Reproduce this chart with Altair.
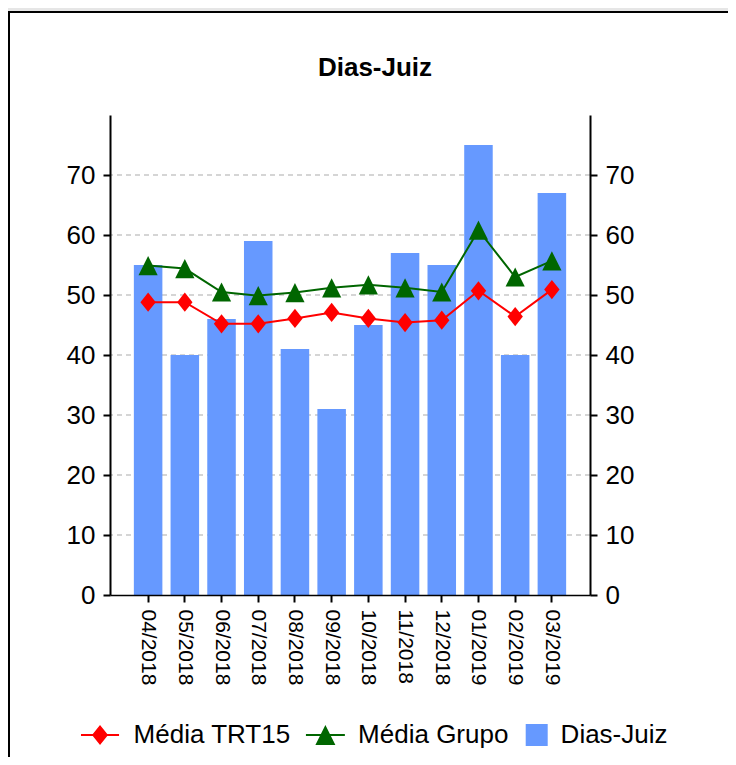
import altair as alt
import pandas as pd

# ---- data ----
months = ["04/2018", "05/2018", "06/2018", "07/2018", "08/2018", "09/2018",
          "10/2018", "11/2018", "12/2018", "01/2019", "02/2019", "03/2019"]
dias_juiz = [55, 40, 46, 59, 41, 31, 45, 57, 55, 75, 40, 67]
media_trt15 = [48.8, 48.8, 45.2, 45.2, 46.1, 47.1, 46.1, 45.4, 45.8, 50.7, 46.4, 50.9]
media_grupo = [54.9, 54.4, 50.5, 49.9, 50.4, 51.2, 51.7, 51.2, 50.5, 60.8, 53.0, 55.7]
y_ticks = [0, 10, 20, 30, 40, 50, 60, 70]
grid_values = [10, 20, 30, 40, 50, 60, 70]
series_names = ["Média TRT15", "Média Grupo", "Dias-Juiz"]
series_colors = ["#ff0000", "#006600", "#6699ff"]

FONT = "Liberation Sans"

df = pd.DataFrame({"month": months, "dias": dias_juiz,
                   "trt": media_trt15, "grupo": media_grupo})

x_scale = alt.Scale(domain=months, paddingInner=0.223, paddingOuter=0.65)
y_scale = alt.Scale(domain=[0, 80], nice=False, zero=True)

x_axis = alt.Axis(labelAngle=90, labelFontSize=21, labelFont=FONT, labelColor="black",
                  tickSize=7, tickWidth=2, tickColor="black",
                  domainColor="black", domainWidth=1.5, labelPadding=7,
                  title=None, grid=False, zindex=1)

def y_axis(orient):
    return alt.Axis(orient=orient, values=y_ticks, labelFontSize=26, labelFont=FONT,
                    labelColor="black", labelPadding=8, tickSize=7, tickWidth=2,
                    tickColor="black", domainColor="black", domainWidth=2,
                    title=None, grid=False, zindex=1)

X = alt.X("month:N", scale=x_scale, sort=None, axis=x_axis)

# white panel with black border
panel = alt.Chart(pd.DataFrame({"k": [0]})).mark_rect(
    fill="white", stroke="black", strokeWidth=2
).encode(x=alt.value(-101), x2=alt.value(700), y=alt.value(-103), y2=alt.value(700))

grid = alt.Chart(pd.DataFrame({"v": grid_values})).mark_rule(
    color="#c8c8c8", strokeWidth=1.5, strokeDash=[5, 4]
).encode(y=alt.Y("v:Q", scale=y_scale, axis=None))

bars = alt.Chart(df).mark_bar(color="#6699ff").encode(
    x=X, y=alt.Y("dias:Q", scale=y_scale, axis=y_axis("left")))

red_line = alt.Chart(df).mark_line(color="#ff0000", strokeWidth=2).encode(
    x=X, y=alt.Y("trt:Q", scale=y_scale, axis=y_axis("right")))
red_pts = alt.Chart(df).mark_point(
    shape="M-0.8,0L0,-1L0.8,0L0,1Z", size=370, filled=True, color="#ff0000", opacity=1
).encode(x=X, y=alt.Y("trt:Q", scale=y_scale, axis=None))

green_line = alt.Chart(df).mark_line(color="#006600", strokeWidth=2).encode(
    x=X, y=alt.Y("grupo:Q", scale=y_scale, axis=None))
green_pts = alt.Chart(df).mark_point(
    shape="M0,-1L1,1L-1,1Z", size=369, filled=True, color="#006600", opacity=1
).encode(x=X, y=alt.Y("grupo:Q", scale=y_scale, axis=None))

# legend symbols (line + marker), drawn as filled paths
legend_paths = [
    "M-2.51,-0.09H0.95V0.09H-2.51Z"
    "M-1.51,0L-0.78,-0.91L-0.05,0L-0.78,0.91Z",
    "M-2.47,-0.09H1.07V0.09H-2.47Z"
    "M-0.7,-0.91L0.21,0.91L-1.61,0.91Z",
    "M-0.9,-1H1.1V1H-0.9Z",
]
leg = alt.Legend(title=None, orient="none", legendX=-14.4, legendY=607,
                 direction="horizontal", padding=0, symbolSize=484,
                 symbolStrokeWidth=0, symbolStrokeColor="transparent",
                 symbolOpacity=1,
                 labelFontSize=26, labelFont=FONT,
                 labelColor="black", labelOffset=12, columnPadding=13.5,
                 labelLimit=400)
# legend host: its own points sit outside the visible canvas
legend_layer = alt.Chart(pd.DataFrame({"series": series_names})).mark_point(
    filled=True
).encode(
    x=alt.value(-1000), y=alt.value(100),
    color=alt.Color("series:N", scale=alt.Scale(domain=series_names, range=series_colors), legend=leg),
    shape=alt.Shape("series:N", scale=alt.Scale(domain=series_names, range=legend_paths), legend=leg),
)

chart = alt.layer(
    panel, grid, bars, red_line, red_pts, green_line, green_pts, legend_layer
).resolve_axis(y="independent").properties(
    width=480, height=480,
    title=alt.TitleParams("Dias-Juiz", fontSize=26, fontWeight="bold", font=FONT,
                          color="black", frame="group", anchor="middle", dx=25,
                          offset=-91, baseline="alphabetic"),
    autosize=alt.AutoSizeParams(type="none"),
    padding={"left": 102, "top": 107, "right": 138, "bottom": 162},
    background="#e6e6e6",
).configure_view(stroke=None)

chart.save("out.html", embed_options={"renderer": "svg", "actions": False})
